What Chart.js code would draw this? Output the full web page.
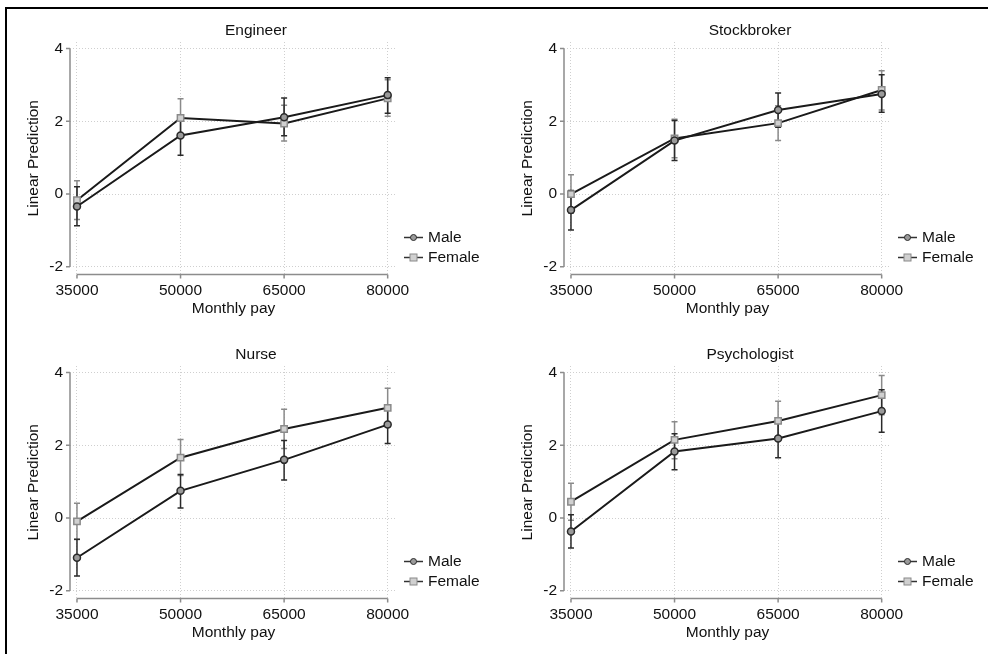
<!DOCTYPE html>
<html>
<head>
<meta charset="utf-8">
<script src="https://cdn.jsdelivr.net/npm/chart.js@4.4.0/dist/chart.umd.min.js"></script>
<style>
  html, body { margin: 0; padding: 0; background: #fff; }
  #wrap { position: relative; width: 988px; height: 654px; overflow: hidden; }
  .panel { position: absolute; width: 494px; height: 327px; }
  #frame { position: absolute; left: 5px; top: 7px; right: 0; bottom: 0;
           border-top: 2px solid #000; border-left: 2px solid #000; pointer-events: none; }
</style>
</head>
<body>
<div id="wrap">
  <div class="panel" style="left:0;top:0"><canvas id="engineer" width="494" height="327"></canvas></div>
  <div class="panel" style="left:494px;top:0"><canvas id="stockbroker" width="494" height="327"></canvas></div>
  <div class="panel" style="left:0;top:324px"><canvas id="nurse" width="494" height="327"></canvas></div>
  <div class="panel" style="left:494px;top:324px"><canvas id="psychologist" width="494" height="327"></canvas></div>
  <div id="frame"></div>
</div>
<script>
// margins plot - linear prediction by monthly pay, male vs female

const payLevels = [35000, 50000, 65000, 80000];
const yTicks = [-2, 0, 2, 4];

// Engineer
const engineerMale = [-0.34, 1.61, 2.11, 2.72];
const engineerMaleLo = [-0.87, 1.07, 1.60, 2.22];
const engineerMaleHi = [0.20, 2.15, 2.64, 3.20];
const engineerFemale = [-0.17, 2.09, 1.94, 2.63];
const engineerFemaleLo = [-0.70, 1.56, 1.46, 2.14];
const engineerFemaleHi = [0.37, 2.62, 2.44, 3.14];

// Stockbroker
const stockMale = [-0.44, 1.47, 2.31, 2.75];
const stockMaleLo = [-0.99, 0.92, 1.84, 2.25];
const stockMaleHi = [0.10, 2.02, 2.78, 3.28];
const stockFemale = [0.00, 1.53, 1.95, 2.86];
const stockFemaleLo = [-0.53, 1.00, 1.47, 2.31];
const stockFemaleHi = [0.53, 2.06, 2.43, 3.39];

// Nurse
const nurseMale = [-1.09, 0.75, 1.60, 2.57];
const nurseMaleLo = [-1.59, 0.28, 1.05, 2.05];
const nurseMaleHi = [-0.58, 1.20, 2.13, 3.08];
const nurseFemale = [-0.09, 1.66, 2.45, 3.03];
const nurseFemaleLo = [-0.59, 1.17, 1.91, 2.50];
const nurseFemaleHi = [0.41, 2.16, 2.99, 3.57];

// Psychologist
const psychMale = [-0.37, 1.83, 2.19, 2.94];
const psychMaleLo = [-0.82, 1.33, 1.66, 2.36];
const psychMaleHi = [0.09, 2.32, 2.71, 3.53];
const psychFemale = [0.45, 2.15, 2.67, 3.38];
const psychFemaleLo = [-0.06, 1.63, 2.15, 2.84];
const psychFemaleHi = [0.96, 2.65, 3.21, 3.92];

const FONT = "'Liberation Sans', Arial, Helvetica, sans-serif";
const FSIZE = 15.5;
const LINE_COLOR = "#1a1a1a";
const MALE_BAR = "#2a2a2a";
const FEMALE_BAR = "#8a8a8a";

// axis lines, tick marks, error bars, title and legend (stata look)
const decor = {
  id: "decor",
  beforeDatasetsDraw(chart, args, opts) {
    const ctx = chart.ctx;
    const a = chart.chartArea;
    const x = chart.scales.x;
    const y = chart.scales.y;
    ctx.save();
    ctx.strokeStyle = "#8c8c8c";
    ctx.lineWidth = 1.5;
    ctx.beginPath();
    ctx.moveTo(a.left, y.getPixelForValue(yTicks[0]));
    ctx.lineTo(a.left, y.getPixelForValue(yTicks[yTicks.length - 1]));
    yTicks.forEach((v) => {
      const py = y.getPixelForValue(v);
      ctx.moveTo(a.left - 4, py);
      ctx.lineTo(a.left, py);
    });
    ctx.moveTo(x.getPixelForValue(payLevels[0]), a.bottom);
    ctx.lineTo(x.getPixelForValue(payLevels[payLevels.length - 1]), a.bottom);
    payLevels.forEach((v) => {
      const px = x.getPixelForValue(v);
      ctx.moveTo(px, a.bottom);
      ctx.lineTo(px, a.bottom + 4);
    });
    ctx.stroke();

    // confidence intervals
    opts.bars.forEach((b) => {
      ctx.strokeStyle = b.color;
      ctx.lineWidth = 1.5;
      ctx.beginPath();
      payLevels.forEach((v, i) => {
        const px = x.getPixelForValue(v);
        const lo = y.getPixelForValue(b.lo[i]);
        const hi = y.getPixelForValue(b.hi[i]);
        ctx.moveTo(px, lo); ctx.lineTo(px, hi);
        ctx.moveTo(px - 3, lo); ctx.lineTo(px + 3, lo);
        ctx.moveTo(px - 3, hi); ctx.lineTo(px + 3, hi);
      });
      ctx.stroke();
    });
    ctx.restore();
  },
  afterDraw(chart, args, opts) {
    const ctx = chart.ctx;
    const a = chart.chartArea;
    ctx.save();
    ctx.fillStyle = "#111";
    ctx.font = FSIZE + "px " + FONT;
    ctx.textAlign = "center";
    ctx.textBaseline = "middle";
    ctx.fillText(opts.title, 256, a.top - 11);

    // legend
    const items = [
      { label: "Male", y: a.bottom - 37, shape: "circle" },
      { label: "Female", y: a.bottom - 17, shape: "rect" },
    ];
    items.forEach((it) => {
      const x0 = a.right + 7, x1 = a.right + 26, cx = (x0 + x1) / 2;
      ctx.strokeStyle = "#333";
      ctx.lineWidth = 1.5;
      ctx.beginPath();
      ctx.moveTo(x0, it.y);
      ctx.lineTo(x1, it.y);
      ctx.stroke();
      ctx.lineWidth = 1;
      if (it.shape === "circle") {
        ctx.fillStyle = "#9a9a9a";
        ctx.strokeStyle = "#2a2a2a";
        ctx.beginPath();
        ctx.arc(cx, it.y, 3, 0, Math.PI * 2);
        ctx.fill();
        ctx.stroke();
      } else {
        ctx.fillStyle = "#d0d0d0";
        ctx.strokeStyle = "#8a8a8a";
        ctx.fillRect(cx - 3.5, it.y - 3.5, 7, 7);
        ctx.strokeRect(cx - 3.5, it.y - 3.5, 7, 7);
      }
      ctx.fillStyle = "#111";
      ctx.textAlign = "left";
      ctx.fillText(it.label, a.right + 31, it.y);
    });
    ctx.restore();
  },
};

function points(vals) {
  return payLevels.map((p, i) => ({ x: p, y: vals[i] }));
}

function makePanel(id, title, male, maleLo, maleHi, female, femaleLo, femaleHi) {
  const ctx = document.getElementById(id).getContext("2d");
  new Chart(ctx, {
    type: "line",
    data: {
      datasets: [
        {
          label: "Male",
          data: points(male),
          borderColor: LINE_COLOR,
          borderWidth: 2,
          pointStyle: "circle",
          pointRadius: 3.5,
          pointBorderWidth: 1.5,
          pointBorderColor: "#2a2a2a",
          pointBackgroundColor: "#9a9a9a",
          tension: 0,
        },
        {
          label: "Female",
          data: points(female),
          borderColor: LINE_COLOR,
          borderWidth: 2,
          pointStyle: "rect",
          pointRadius: 4.5,
          pointBorderWidth: 1.5,
          pointBorderColor: "#8a8a8a",
          pointBackgroundColor: "#d0d0d0",
          tension: 0,
        },
      ],
    },
    options: {
      responsive: false,
      animation: false,
      layout: { padding: { left: 0, right: 97, top: 42, bottom: 0 } },
      plugins: {
        legend: { display: false },
        tooltip: { enabled: false },
        decor: {
          title: title,
          bars: [
            { color: FEMALE_BAR, lo: femaleLo, hi: femaleHi },
            { color: MALE_BAR, lo: maleLo, hi: maleHi },
          ],
        },
      },
      scales: {
        x: {
          type: "linear",
          min: 33990,
          max: 81350,
          afterBuildTicks: (s) => { s.ticks = payLevels.map((v) => ({ value: v })); },
          afterFit: (s) => { s.height = 52.5; },
          grid: { color: "#cfcfcf", lineWidth: 1, drawTicks: false },
          border: { display: false, dash: [1, 2] },
          ticks: {
            autoSkip: false,
            maxRotation: 0,
            padding: 7,
            color: "#111",
            font: { family: FONT, size: FSIZE },
            callback: (v) => String(v),
          },
          title: {
            display: true,
            text: "Monthly pay",
            color: "#111",
            font: { family: FONT, size: FSIZE },
            padding: { top: 0, bottom: 9 },
          },
        },
        y: {
          min: -2.21,
          max: 4.18,
          afterBuildTicks: (s) => { s.ticks = yTicks.map((v) => ({ value: v })); },
          afterFit: (s) => { s.width = 70; },
          grid: { color: "#cfcfcf", lineWidth: 1, drawTicks: false },
          border: { display: false, dash: [1, 2] },
          ticks: {
            padding: 7,
            color: "#111",
            font: { family: FONT, size: FSIZE },
            callback: (v) => String(v),
          },
          title: {
            display: true,
            text: "Linear Prediction",
            color: "#111",
            font: { family: FONT, size: FSIZE },
            padding: { top: 24, bottom: 0 },
          },
        },
      },
    },
    plugins: [decor],
  });
}

document.addEventListener("DOMContentLoaded", function () {
  makePanel("engineer", "Engineer", engineerMale, engineerMaleLo, engineerMaleHi,
    engineerFemale, engineerFemaleLo, engineerFemaleHi);
  makePanel("stockbroker", "Stockbroker", stockMale, stockMaleLo, stockMaleHi,
    stockFemale, stockFemaleLo, stockFemaleHi);
  makePanel("nurse", "Nurse", nurseMale, nurseMaleLo, nurseMaleHi,
    nurseFemale, nurseFemaleLo, nurseFemaleHi);
  makePanel("psychologist", "Psychologist", psychMale, psychMaleLo, psychMaleHi,
    psychFemale, psychFemaleLo, psychFemaleHi);
});
</script>
</body>
</html>
